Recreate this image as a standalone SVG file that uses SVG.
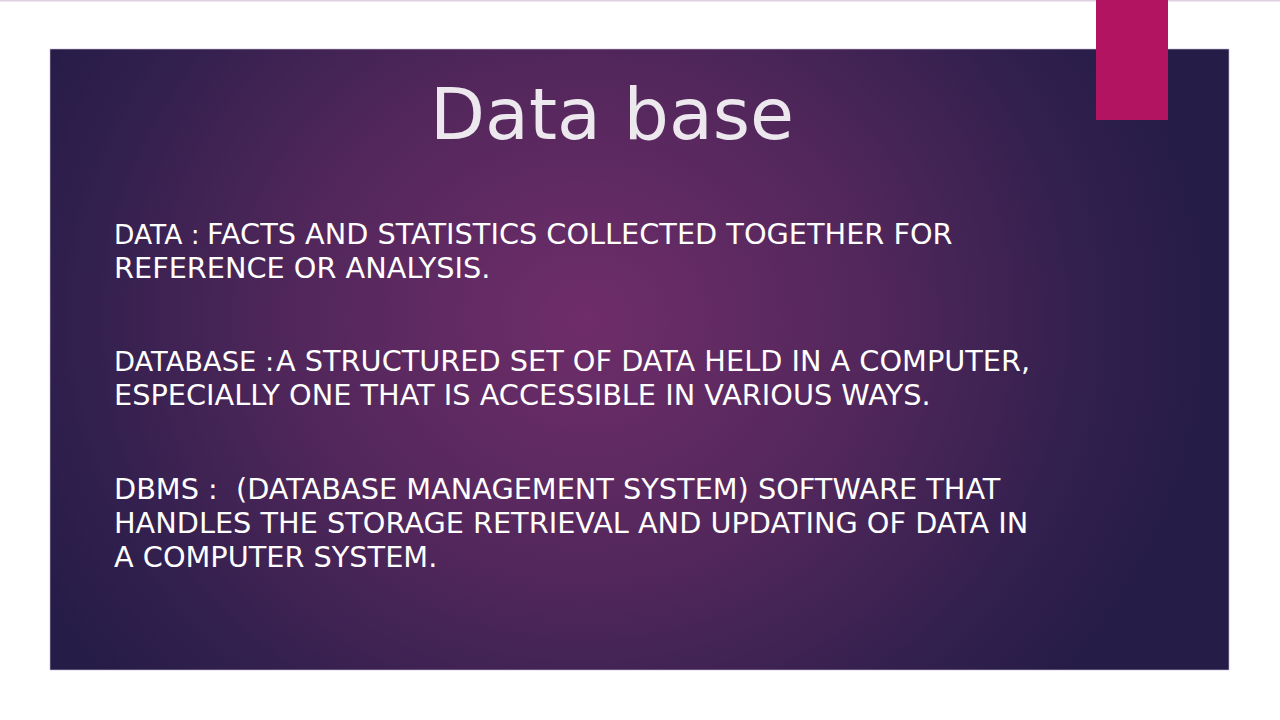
<svg xmlns="http://www.w3.org/2000/svg" width="1280" height="720" viewBox="0 0 1280 720">
<defs>
<radialGradient id="bg" gradientUnits="userSpaceOnUse" cx="585" cy="320" r="620" gradientTransform="translate(585 320) scale(1 0.9) translate(-585 -320)">
<stop offset="0" stop-color="#6f2d6a"/>
<stop offset="0.45" stop-color="#53275c"/>
<stop offset="0.8" stop-color="#33204e"/>
<stop offset="1" stop-color="#261c48"/>
</radialGradient>
<style>
.t{font-family:"DejaVu Sans","Noto Sans",sans-serif;fill:#ffffff}
.b{font-size:28.75px}
.l{font-size:26.5px}
.l2{font-size:27.3px}
</style>
</defs>
<rect x="0" y="0" width="1280" height="720" fill="#ffffff"/>
<rect x="0" y="0" width="1280" height="1.5" fill="#ddd0e0"/>
<rect x="50" y="49" width="1179" height="621" fill="url(#bg)" stroke="#c8b8d0" stroke-width="0.6"/>
<rect x="1096" y="0" width="72" height="120" fill="#b31462"/>
<g id="title">
<text class="t" x="612" y="139" font-size="71.5" text-anchor="middle" style="fill:#ece8ee">Data base</text>
</g>
<g id="data">
<text class="t b" x="114" y="244"><tspan class="l">DATA :</tspan><tspan x="207">FACTS AND STATISTICS COLLECTED TOGETHER FOR</tspan></text>
<text class="t b" x="114" y="278">REFERENCE OR ANALYSIS.</text>
</g>
<g id="database">
<text class="t b" x="114" y="371"><tspan class="l2">DATABASE :</tspan><tspan x="276">A STRUCTURED SET OF DATA HELD IN A COMPUTER,</tspan></text>
<text class="t b" x="114" y="405">ESPECIALLY ONE THAT IS ACCESSIBLE IN VARIOUS WAYS.</text>
</g>
<g id="dbms">
<text class="t b" x="114" y="499" xml:space="preserve">DBMS :  (DATABASE MANAGEMENT SYSTEM) SOFTWARE THAT</text>
<text class="t b" x="114" y="533">HANDLES THE STORAGE RETRIEVAL AND UPDATING OF DATA IN</text>
<text class="t b" x="114" y="567">A COMPUTER SYSTEM.</text>
</g>
</svg>
